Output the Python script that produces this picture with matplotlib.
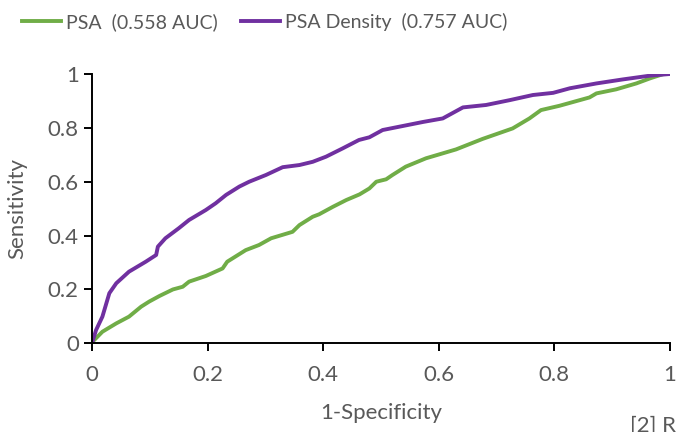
import matplotlib
matplotlib.use("Agg")
import matplotlib.pyplot as plt

plt.rcParams["font.family"] = ["Lato", "DejaVu Sans"]

# ROC points (1-specificity, sensitivity)
psa_fpr = [0, 0.001, 0.018, 0.042, 0.064, 0.085, 0.099, 0.117, 0.14, 0.157, 0.168,
           0.197, 0.226, 0.234, 0.266, 0.289, 0.31, 0.347, 0.359, 0.382, 0.393,
           0.417, 0.44, 0.463, 0.48, 0.492, 0.509, 0.52, 0.543, 0.578, 0.63,
           0.676, 0.728, 0.757, 0.777, 0.809, 0.861, 0.873, 0.907, 0.942, 0.966,
           0.989, 1.0]
psa_tpr = [0, 0.006, 0.043, 0.074, 0.099, 0.136, 0.155, 0.176, 0.2, 0.21, 0.229,
           0.25, 0.278, 0.303, 0.346, 0.365, 0.39, 0.414, 0.439, 0.47, 0.479,
           0.507, 0.532, 0.553, 0.575, 0.6, 0.609, 0.625, 0.656, 0.687, 0.72,
           0.759, 0.798, 0.835, 0.866, 0.882, 0.913, 0.928, 0.943, 0.965, 0.984,
           1.0, 1.0]

dens_fpr = [0, 0.007, 0.018, 0.03, 0.042, 0.064, 0.093, 0.111, 0.114, 0.127, 0.15,
            0.168, 0.197, 0.214, 0.232, 0.255, 0.272, 0.301, 0.33, 0.359, 0.382,
            0.405, 0.434, 0.462, 0.48, 0.503, 0.538, 0.573, 0.607, 0.642, 0.682,
            0.723, 0.763, 0.798, 0.827, 0.873, 0.919, 0.966, 1.0]
dens_tpr = [0, 0.049, 0.099, 0.186, 0.223, 0.266, 0.303, 0.328, 0.359, 0.39, 0.427,
            0.458, 0.495, 0.52, 0.551, 0.582, 0.6, 0.625, 0.654, 0.662, 0.674,
            0.693, 0.724, 0.755, 0.765, 0.792, 0.807, 0.822, 0.835, 0.876, 0.885,
            0.903, 0.922, 0.93, 0.947, 0.965, 0.98, 0.994, 1.0]

labels = ["PSA  (0.558 AUC)", "PSA Density  (0.757 AUC)"]
ticks = [0, 0.2, 0.4, 0.6, 0.8, 1]
tick_labels = ["0", "0.2", "0.4", "0.6", "0.8", "1"]

grey = "#595959"

fig = plt.figure(figsize=(6.79, 4.32), dpi=100)
ax = fig.add_axes([0.1355, 0.2053, 0.851, 0.6234])

ax.plot(psa_fpr, psa_tpr, color="#70AD47", linewidth=2.8, label=labels[0])
ax.plot(dens_fpr, dens_tpr, color="#7030A0", linewidth=2.8, label=labels[1])

ax.set_xlim(0, 1)
ax.set_ylim(0, 1)
ax.set_xticks(ticks)
ax.set_xticklabels(tick_labels)
ax.set_yticks(ticks)
ax.set_yticklabels(tick_labels)
ax.tick_params(direction="out", length=5.5, width=1.4, color="black",
               labelsize=16, labelcolor=grey)
ax.tick_params(axis="x", pad=10)
ax.tick_params(axis="y", pad=4)

for side in ["top", "right"]:
    ax.spines[side].set_visible(False)
for side in ["left", "bottom"]:
    ax.spines[side].set_linewidth(1.4)
    ax.spines[side].set_color("black")

ax.set_xlabel("1-Specificity", fontsize=16, color=grey, labelpad=13)
ax.set_ylabel("Sensitivity", fontsize=16, color=grey, labelpad=15)

fig.legend(loc="upper left", bbox_to_anchor=(0.007, 1.01), ncol=2, frameon=False,
           fontsize=14, labelcolor=grey, handlelength=2.0, handletextpad=0.26,
           columnspacing=1.2)

fig.text(0.928, 0.038, "[2] R", fontsize=16, color=grey, ha="left", va="top")

fig.savefig("out.png", dpi=100)
